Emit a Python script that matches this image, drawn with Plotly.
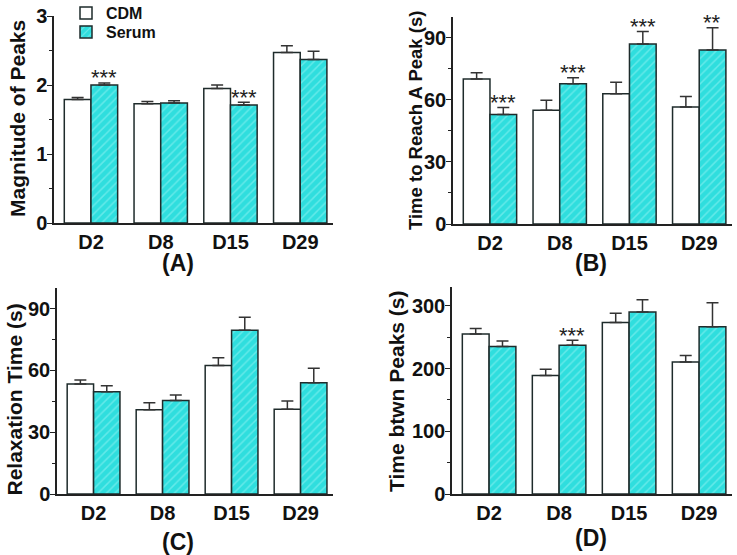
import plotly.graph_objects as go
from plotly.subplots import make_subplots

categories = ["D2", "D8", "D15", "D29"]

# Panel A: Magnitude of Peaks
a_cdm = [1.79, 1.73, 1.95, 2.47]
a_cdm_err = [0.03, 0.03, 0.05, 0.10]
a_serum = [2.00, 1.74, 1.71, 2.37]
a_serum_err = [0.03, 0.03, 0.04, 0.12]
a_sig = ["***", "", "***", ""]

# Panel B: Time to Reach A Peak (s)
b_cdm = [70.1, 55.0, 62.9, 56.5]
b_cdm_err = [3.0, 4.8, 5.6, 5.1]
b_serum = [52.9, 67.7, 86.9, 84.0]
b_serum_err = [3.4, 3.0, 6.1, 10.8]
b_sig = ["***", "***", "***", "**"]

# Panel C: Relaxation Time (s)
c_cdm = [53.4, 40.9, 62.4, 41.2]
c_cdm_err = [1.9, 3.4, 3.8, 4.0]
c_serum = [49.6, 45.4, 79.5, 54.0]
c_serum_err = [2.9, 2.6, 6.3, 7.1]
c_sig = ["", "", "", ""]

# Panel D: Time btwn Peaks (s)
d_cdm = [255, 189, 273.5, 210.6]
d_cdm_err = [9, 10, 14.5, 10]
d_serum = [235, 237, 290, 266.7]
d_serum_err = [9, 8, 19.5, 38.3]
d_sig = ["", "***", "", ""]

W, H = 737, 555


def px(X):
    return X / W


def py(Y):
    return 1 - Y / H


panels = [
    dict(cdm=a_cdm, cdm_err=a_cdm_err, ser=a_serum, ser_err=a_serum_err, sig=a_sig,
         title="Magnitude of Peaks", tsize=21, tx=17, ty=119, label="(A)", lx=178, ly=263,
         rng=[0, 3], dtick=1, minor=0.5, xs=(54, 333), ys=(223, 16)),
    dict(cdm=b_cdm, cdm_err=b_cdm_err, ser=b_serum, ser_err=b_serum_err, sig=b_sig,
         title="Time to Reach A Peak (s)", tsize=18.5, tx=415, ty=121, label="(B)", lx=591, ly=263,
         rng=[0, 100], dtick=30, minor=15, xs=(453, 732), ys=(224, 17)),
    dict(cdm=c_cdm, cdm_err=c_cdm_err, ser=c_serum, ser_err=c_serum_err, sig=c_sig,
         title="Relaxation Time (s)", tsize=21, tx=13.5, ty=400, label="(C)", lx=178, ly=542,
         rng=[0, 100], dtick=30, minor=15, xs=(57, 333), ys=(494, 288)),
    dict(cdm=d_cdm, cdm_err=d_cdm_err, ser=d_serum, ser_err=d_serum_err, sig=d_sig,
         title="Time btwn Peaks (s)", tsize=21, tx=396, ty=391, label="(D)", lx=591, ly=538,
         rng=[0, 330], dtick=100, minor=50, xs=(452, 732), ys=(494, 287)),
]

FONT = "Liberation Sans, Arial, sans-serif"
EDGE = "#1e2b2b"
CYAN = "#2fdede"

fig = make_subplots(rows=2, cols=2)
annotations = []
for i, p in enumerate(panels):
    r, c = i // 2 + 1, i % 2 + 1
    showleg = (i == 0)
    fig.add_trace(go.Bar(
        x=categories, y=p["cdm"], name="CDM", showlegend=showleg, legend="legend",
        marker=dict(color="white", line=dict(color=EDGE, width=1.5)),
        error_y=dict(type="data", array=p["cdm_err"], arrayminus=[0]*4, symmetric=False,
                     color="#333333", thickness=1.5, width=6),
    ), row=r, col=c)
    fig.add_trace(go.Bar(
        x=categories, y=p["ser"], name="Serum", showlegend=showleg, legend="legend2",
        marker=dict(color=CYAN, line=dict(color=EDGE, width=1.5),
                    pattern=dict(shape="/", fgcolor="#9af3f3", bgcolor=CYAN, size=6, solidity=0.25)),
        error_y=dict(type="data", array=p["ser_err"], arrayminus=[0]*4, symmetric=False,
                     color="#333333", thickness=1.5, width=6),
    ), row=r, col=c)
    axn = "" if i == 0 else str(i + 1)
    fig.layout["xaxis" + axn].update(
        domain=[px(p["xs"][0]), px(p["xs"][1])], range=[-0.53, 3.47], showline=True,
        linecolor="#222222", linewidth=1.5, ticks="", automargin=False,
        tickfont=dict(family=FONT, size=20, color="#111111", weight="bold"),
        showgrid=False, zeroline=False,
    )
    fig.layout["yaxis" + axn].update(
        domain=[py(p["ys"][0]), py(p["ys"][1])], range=p["rng"], dtick=p["dtick"], tick0=0,
        showline=True, linecolor="#222222", linewidth=1.5, ticks="outside", ticklen=5,
        tickwidth=1.2, tickcolor="#222222", showgrid=False, zeroline=False, automargin=False,
        ticklabelstandoff=-4, ticklabeloverflow="allow",
        minor=dict(dtick=p["minor"], ticks="outside", ticklen=3, tickcolor="#222222", tickwidth=1),
        tickfont=dict(family=FONT, size=20, color="#111111", weight="bold"),
    )
    xref = "x" + axn
    yref = "y" + axn
    # y-axis title, placed explicitly
    annotations.append(dict(
        x=px(p["tx"]), y=py(p["ty"]), xref="paper", yref="paper", text=p["title"],
        textangle=-90, showarrow=False, xanchor="center", yanchor="middle",
        font=dict(family=FONT, size=p["tsize"], color="#111111", weight="bold"),
    ))
    for j, s in enumerate(p["sig"]):
        if s:
            annotations.append(dict(
                x=j + 0.19, y=p["ser"][j] + p["ser_err"][j], xref=xref, yref=yref,
                text=s, showarrow=False, yanchor="middle", yshift=5,
                font=dict(family=FONT, size=22, color="#222222"),
            ))
    annotations.append(dict(
        x=px(p["lx"]), y=py(p["ly"]), xref="paper", yref="paper",
        text=p["label"], showarrow=False, xanchor="center", yanchor="middle",
        font=dict(family=FONT, size=23, color="#111111", weight="bold"),
    ))

leg_common = dict(xanchor="left", yanchor="top", bgcolor="rgba(0,0,0,0)",
                  font=dict(family=FONT, size=16, color="#111111", weight="bold"),
                  itemwidth=30)

fig.update_layout(
    width=W, height=H, margin=dict(l=0, r=0, t=0, b=0, autoexpand=False),
    paper_bgcolor="white", plot_bgcolor="white",
    barmode="group", bargap=0.235, bargroupgap=0,
    showlegend=True,
    legend=dict(x=px(66), y=py(-4), **leg_common),
    legend2=dict(x=px(66), y=py(15), **leg_common),
    annotations=annotations,
    font=dict(family=FONT),
)

# remove the default 8px body margin so the figure sits at the page origin
fig.write_html("out.html", config={"displayModeBar": False},
               post_script="document.body.style.margin='0px';")
